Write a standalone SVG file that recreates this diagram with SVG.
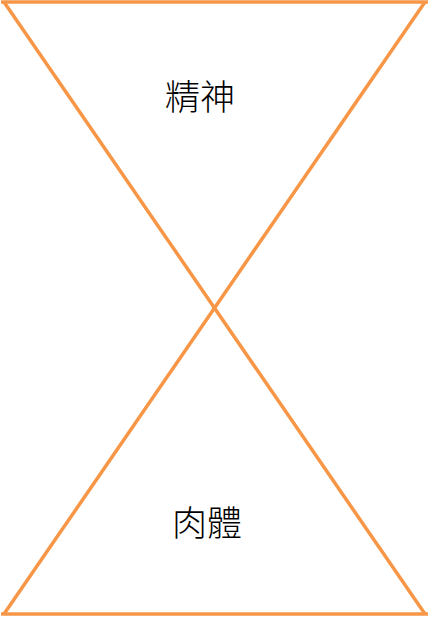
<svg xmlns="http://www.w3.org/2000/svg" width="429" height="617" viewBox="0 0 429 617">
<style>
.ln{stroke:#F79646;stroke-width:3.5;fill:none;stroke-linecap:butt}
.lbl{font-family:"Noto Sans CJK TC","Noto Sans CJK SC",sans-serif;font-size:35px;fill:#000;text-anchor:middle;font-weight:300}
</style>
<rect width="429" height="617" fill="#fff"/>
<g id="connectors">
<line class="ln" x1="1" y1="2" x2="428" y2="2"/>
<line class="ln" x1="1" y1="614" x2="428" y2="614"/>
<line class="ln" x1="4" y1="2" x2="425" y2="614"/>
<line class="ln" x1="425" y1="2" x2="4" y2="614"/>
</g>
<g id="spirit"><text class="lbl" x="200" y="110">精神</text></g>
<g id="body"><text class="lbl" x="207" y="536">肉體</text></g>
</svg>
